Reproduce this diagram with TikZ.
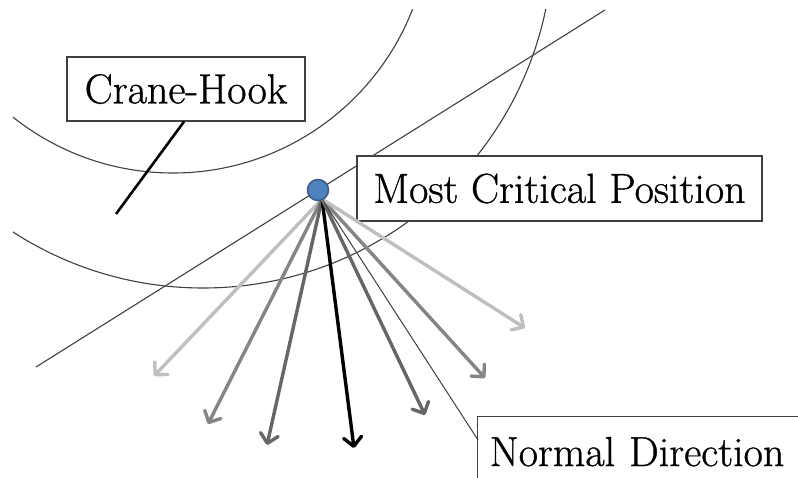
\documentclass[tikz,border=0pt]{standalone}
\usepackage{fontspec}
\newfontfamily\labelface{Latin Modern Roman}[FakeBold=0.8]
\usetikzlibrary{arrows.meta,calc}
\definecolor{edgegray}{HTML}{404040}
\definecolor{dotblue}{RGB}{79,129,189}
\definecolor{dotrim}{RGB}{56,93,138}
\definecolor{raylight}{HTML}{BFBFBF}
\definecolor{raymid}{HTML}{858585}
\definecolor{raydark}{HTML}{666666}
\tikzset{
  guide/.style={draw=edgegray, line width=1.1pt},
  labelbox/.style={draw=edgegray, fill=white, line width=1.3pt, inner sep=0pt,
    font=\labelface\fontsize{42}{48}\selectfont},
  ray/.style={line width=3.4pt, line cap=round,
    -{Straight Barb[length=9pt,width=18pt,line width=3.4pt,round]}},
}
\begin{document}
\begin{tikzpicture}[x=1pt,y=-1pt]
  \useasboundingbox (0,0) rectangle (798,478);
  \fill[white] (0,0) rectangle (798,478);

  % hook contour arcs
  \begin{scope}
    \clip (13,10) rectangle (798,478);
    \draw[guide] (173,-84) circle[radius=257];
    \draw[guide] (203,-62) circle[radius=350];
  \end{scope}

  % tangent line through the critical point
  \coordinate (tanA) at (36,367);
  \coordinate (tanB) at (605,10);
  \draw[guide] (tanA) -- (tanB);

  % labels
  \node[labelbox, minimum width=238, minimum height=64] (hook) at (186,89) {Crane-Hook};
  \node[labelbox, minimum width=405, minimum height=65] (crit) at (559.5,188.5) {Most Critical Position};
  \node[labelbox, anchor=north west, minimum width=360, minimum height=70,
        align=left, text width=336, inner xsep=12pt] (normal) at (477,416) {Normal Direction};

  % leader from the hook label
  \coordinate (hookend) at (116,214);
  \draw[line width=2.6pt] (hook.south) ++(-2,0) -- (hookend);

  % force rays from the critical point
  \coordinate (src) at (322,199);
  \coordinate (r1) at (154,376);
  \coordinate (r2) at (208,424);
  \coordinate (r3) at (267,445);
  \coordinate (r4) at (354,448);
  \coordinate (r5) at (425,415);
  \coordinate (r6) at (485,378);
  \coordinate (r7) at (525,328);
  \draw[ray, raylight] (src) -- (r1);
  \draw[ray, raymid] (src) -- (r2);
  \draw[ray, raydark] (src) -- (r3);
  \draw[ray, black] (src) -- (r4);
  \draw[ray, raydark] (src) -- (r5);
  \draw[ray, raymid] (src) -- (r6);
  \draw[ray, raylight] (src) -- (r7);

  % normal direction leader
  \coordinate (normend) at (478,440);
  \draw[edgegray, line width=1pt] (src) -- (normend);

  % critical point marker
  \node[circle, fill=dotblue, draw=dotrim, line width=1.5pt, minimum size=21, inner sep=0pt] (pt) at (318,190) {};
\end{tikzpicture}
\end{document}
